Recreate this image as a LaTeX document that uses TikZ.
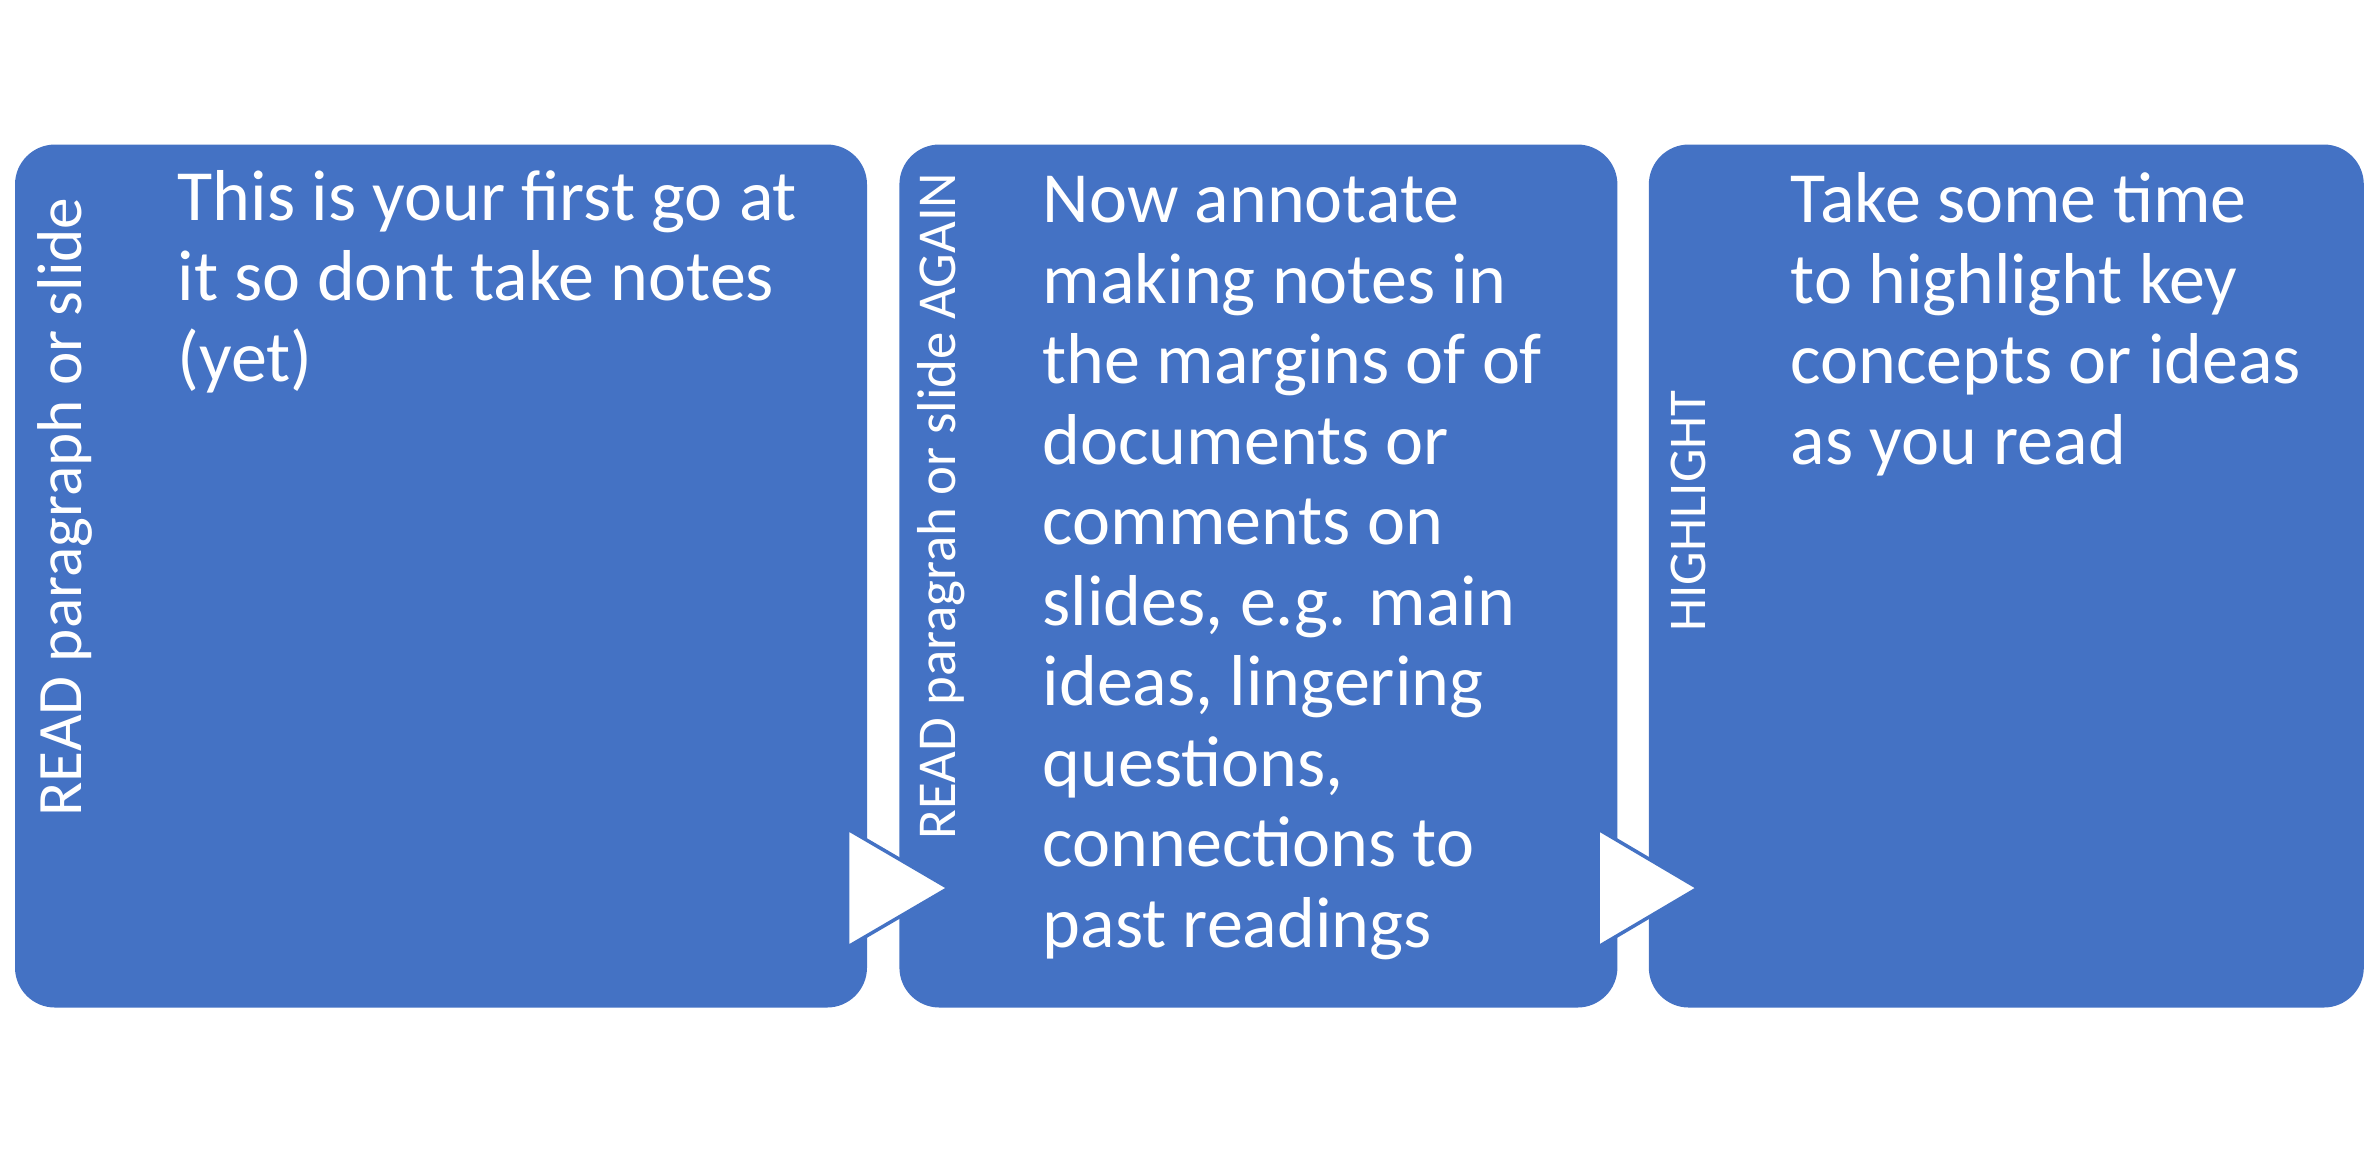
\documentclass[tikz,border=0pt]{standalone}
\usepackage{fontspec}
\setmainfont{Carlito}
\usetikzlibrary{calc,positioning}
\definecolor{office}{HTML}{4472C4}
\tikzset{
  stage/.style={rectangle, rounded corners=4mm, fill=office, inner sep=0pt,
                minimum height=86.3mm},
  side/.style={rotate=90, anchor=base, text=white, inner sep=0pt},
  body/.style={anchor=base west, align=left, text=white, inner sep=0pt,
               font=\fontsize{20.5}{22.9}\selectfont},
  chevron/.style={fill=white, draw=office, line width=0.35mm, line join=miter}
}

\begin{document}
\begin{tikzpicture}[x=0.1mm, y=-0.1mm, node distance=3mm]
  \useasboundingbox (0,0) rectangle (2369,1155);
  \node[stage, minimum width=85.2mm] (read) at (441,576) {};
  \node[stage, minimum width=71.8mm, right=3.1mm of read] (reread) {};
  \node[stage, minimum width=71.5mm, right=3mm of reread] (highlight) {};
  \coordinate (lane) at (0,888);
  \foreach \a/\b in {read/reread, reread/highlight}
    \draw[chevron] ($(\a.east |- lane)+(-20,-59)$) -- ($(\b.west |- lane)+(50,0)$)
      -- ($(\a.east |- lane)+(-20,59)$) -- cycle;
  % side labels
  \node[side, font=\fontsize{18}{20}\selectfont] (readlbl) at (81,507) {READ paragraph or slide};
  \node[side, font=\fontsize{15.6}{18}\selectfont] (rereadlbl) at (955,506) {READ paragrah or slide AGAIN};
  \node[side, font=\fontsize{15.1}{18}\selectfont] (highlightlbl) at (1705,511) {HIGHLIGHT};
  % body text (base = last line)
  \node[body] (readtxt) at (177,381) {This is your first go at\\it so dont take notes\\(yet)};
  \node[body] (rereadtxt) at (1042,947) {Now annotate\\making notes in\\the margins of of\\documents or\\comments on\\slides, e.g. main\\ideas, lingering\\questions,\\connections to\\past readings};
  \node[body] (highlighttxt) at (1790,464) {Take some time\\to highlight key\\concepts or ideas\\as you read};
\end{tikzpicture}
\end{document}
